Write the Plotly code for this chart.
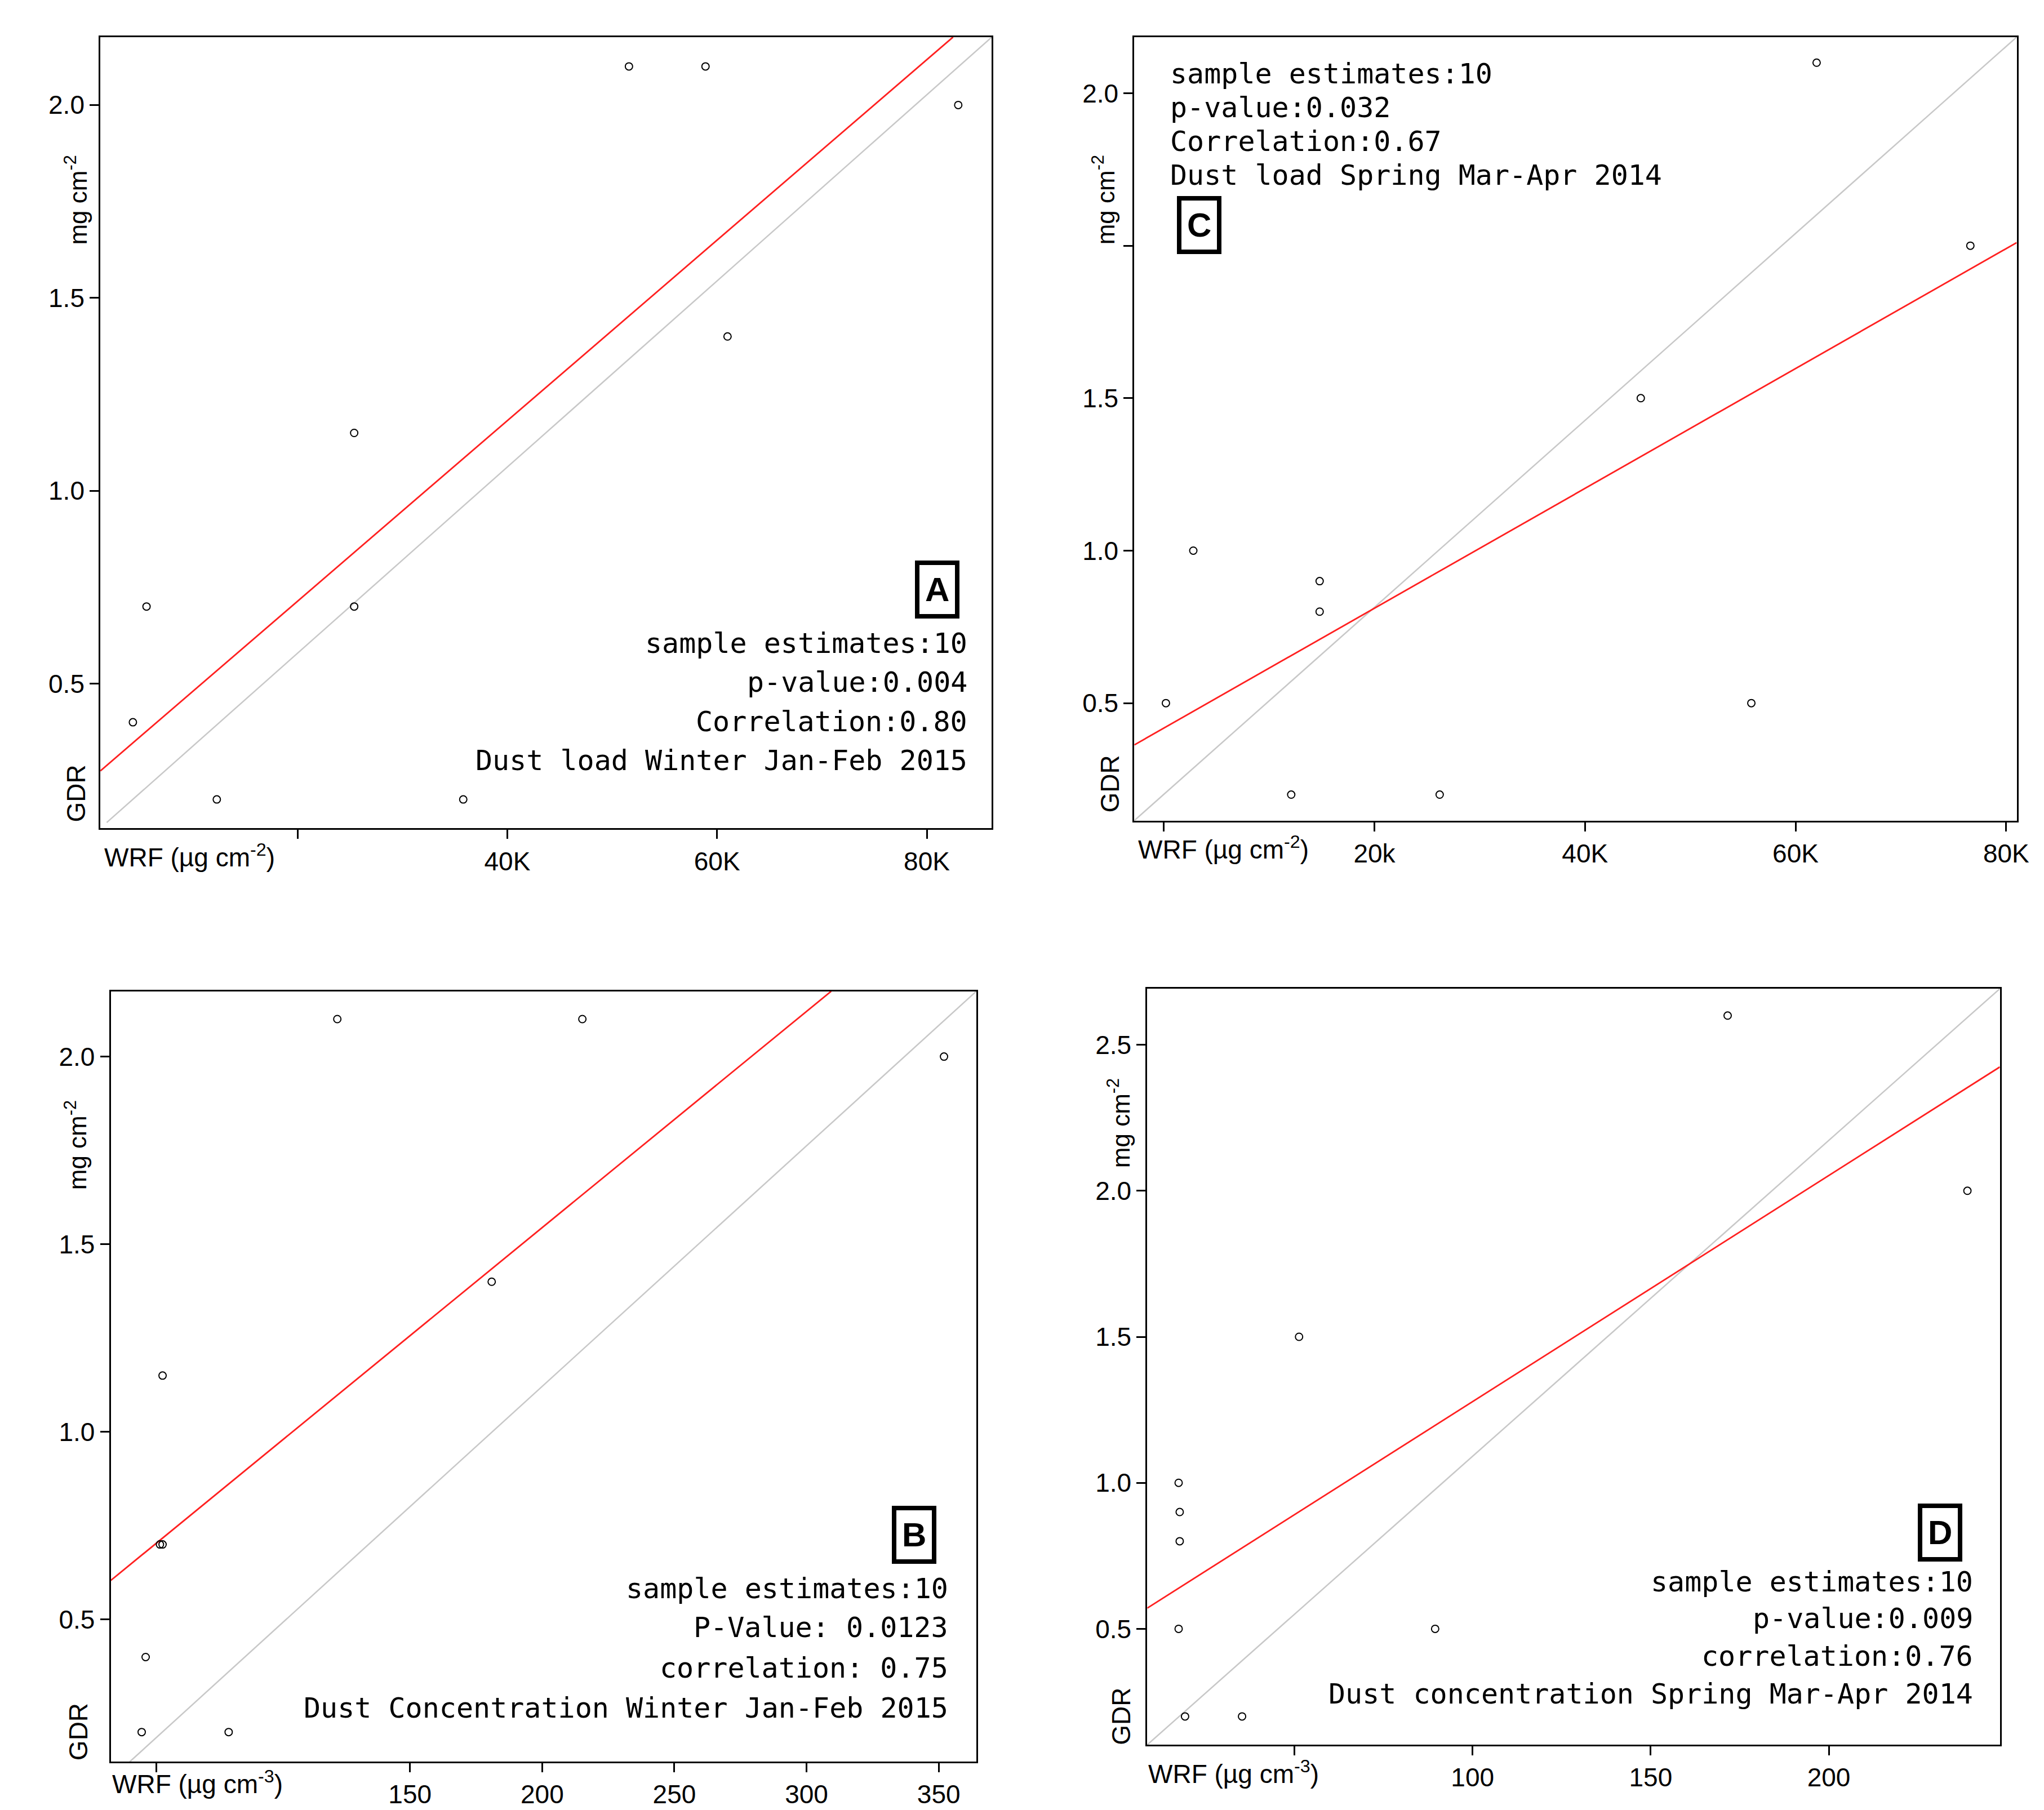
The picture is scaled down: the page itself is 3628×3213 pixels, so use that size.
import plotly.graph_objects as go

# ---------------- data ----------------
a_x = [4.3, 5.6, 12.3, 25.4, 25.4, 35.8, 51.6, 58.9, 61.0, 83.0]   # K ug cm-2
a_y = [0.4, 0.7, 0.2, 1.15, 0.7, 0.2, 2.1, 2.1, 1.4, 2.0]
a_fit_x = [1.2, 82.5]; a_fit_y = [0.274, 2.176]
a_diag_x = [1.8, 86.2]; a_diag_y = [0.14, 2.176]

c_x = [0.2, 2.8, 12.1, 14.8, 14.8, 26.2, 45.3, 55.8, 62.0, 76.6]
c_y = [0.5, 1.0, 0.2, 0.9, 0.8, 0.2, 1.5, 0.5, 2.6, 2.0]
c_fit_x = [-2.8, 81.0]; c_fit_y = [0.363, 2.01]
c_diag_x = [-2.8, 81.0]; c_diag_y = [0.115, 2.684]

b_x = [48.5, 50, 55.4, 56.4, 56.4, 81.4, 122.5, 180.9, 215.2, 352]
b_y = [0.2, 0.4, 0.7, 0.7, 1.15, 0.2, 2.1, 1.4, 2.1, 2.0]
b_fit_x = [36.8, 309.3]; b_fit_y = [0.604, 2.174]
b_diag_x = [44.0, 364.2]; b_diag_y = [0.121, 2.174]

d_x = [17.5, 17.8, 17.8, 17.5, 19.3, 35.3, 51.3, 89.5, 171.6, 238.9]
d_y = [0.5, 0.8, 0.9, 1.0, 0.2, 0.2, 1.5, 0.5, 2.6, 2.0]
d_fit_x = [8.7, 248]; d_fit_y = [0.571, 2.424]
d_diag_x = [8.7, 248]; d_diag_y = [0.103, 2.692]

a_text = ["sample estimates:10", "p-value:0.004", "Correlation:0.80", "Dust load Winter Jan-Feb 2015"]
c_text = ["sample estimates:10", "p-value:0.032", "Correlation:0.67", "Dust load Spring Mar-Apr 2014"]
b_text = ["sample estimates:10", "P-Value: 0.0123", "correlation: 0.75", "Dust Concentration Winter Jan-Feb 2015"]
d_text = ["sample estimates:10", "p-value:0.009", "correlation:0.76", "Dust concentration Spring Mar-Apr 2014"]

# ---------------- layout helpers ----------------
W, H = 1568.0, 1388.5
def px(x): return x / W
def py(y): return 1 - y / H

panels = [
    dict(n="A", box=(74, 25, 762, 632), xr=[1.2, 86.2], yr=[0.125, 2.176],
         xt=[20, 40, 60, 80], xtt=["", "40K", "60K", "80K"],
         yt=[0.5, 1.0, 1.5, 2.0], ytt=["0.5", "1.0", "1.5", "2.0"],
         x=a_x, y=a_y, fx=a_fit_x, fy=a_fit_y, gx=a_diag_x, gy=a_diag_y,
         lab=(720, 449), txt=a_text, tx=744, ty=[490, 520, 550, 580], align="right",
         wrf=(76, 653), unit="cm<sup>-2</sup>", mg=(55, 150), gdr=(55, 605)),
    dict(n="C", box=(872, 25, 1553, 626), xr=[-2.8, 81.0], yr=[0.115, 2.684],
         xt=[0, 20, 40, 60, 80], xtt=["", "20k", "40K", "60K", "80K"],
         yt=[0.5, 1.0, 1.5, 2.0, 2.5], ytt=["0.5", "1.0", "1.5", "", "2.0"],
         x=c_x, y=c_y, fx=c_fit_x, fy=c_fit_y, gx=c_diag_x, gy=c_diag_y,
         lab=(922, 169), txt=c_text, tx=899, ty=[53, 79, 105, 131], align="left",
         wrf=(874, 647), unit="cm<sup>-2</sup>", mg=(848, 150), gdr=(853, 598)),
    dict(n="B", box=(82, 757, 750, 1348), xr=[36.8, 364.2], yr=[0.121, 2.174],
         xt=[54, 150, 200, 250, 300, 350], xtt=["", "150", "200", "250", "300", "350"],
         yt=[0.5, 1.0, 1.5, 2.0], ytt=["0.5", "1.0", "1.5", "2.0"],
         x=b_x, y=b_y, fx=b_fit_x, fy=b_fit_y, gx=b_diag_x, gy=b_diag_y,
         lab=(702, 1174), txt=b_text, tx=729, ty=[1215, 1245, 1276, 1307], align="right",
         wrf=(82, 1364), unit="cm<sup>-3</sup>", mg=(55, 875), gdr=(57, 1325)),
    dict(n="D", box=(882, 755, 1540, 1335), xr=[8.7, 248], yr=[0.103, 2.692],
         xt=[50, 100, 150, 200], xtt=["", "100", "150", "200"],
         yt=[0.5, 1.0, 1.5, 2.0, 2.5], ytt=["0.5", "1.0", "1.5", "2.0", "2.5"],
         x=d_x, y=d_y, fx=d_fit_x, fy=d_fit_y, gx=d_diag_x, gy=d_diag_y,
         lab=(1494, 1172), txt=d_text, tx=1520, ty=[1210, 1238, 1267, 1296], align="right",
         wrf=(882, 1356), unit="cm<sup>-3</sup>", mg=(860, 858), gdr=(862, 1313)),
]

fig = go.Figure()
ann = []
lay = {}
for i, p in enumerate(panels):
    k = "" if i == 0 else str(i + 1)
    xa, ya = "x" + k, "y" + k
    l, t, r, b = p["box"]
    fig.add_trace(go.Scatter(x=p["gx"], y=p["gy"], mode="lines", line=dict(color="#c8c8c8", width=2.5),
                             xaxis=xa, yaxis=ya, showlegend=False))
    fig.add_trace(go.Scatter(x=p["fx"], y=p["fy"], mode="lines", line=dict(color="#ff2020", width=2.8),
                             xaxis=xa, yaxis=ya, showlegend=False))
    fig.add_trace(go.Scatter(x=p["x"], y=p["y"], mode="markers",
                             marker=dict(symbol="circle-open", size=13, color="black", line=dict(width=2)),
                             xaxis=xa, yaxis=ya, showlegend=False))
    common = dict(showgrid=False, zeroline=False, showline=True, linecolor="black", linewidth=3,
                  mirror=True, ticks="outside", ticklen=16, tickwidth=2.5, tickcolor="black",
                  tickfont=dict(family="Liberation Sans", size=46, color="black"))
    lay["xaxis" + k] = dict(domain=[px(l), px(r)], range=p["xr"], tickvals=p["xt"], ticktext=p["xtt"],
                            anchor=ya, **common)
    lay["yaxis" + k] = dict(domain=[py(b), py(t)], range=p["yr"], tickvals=p["yt"], ticktext=p["ytt"],
                            anchor=xa, **common)
    ann.append(dict(x=px(p["lab"][0]), y=py(p["lab"][1]), xref="paper", yref="paper", showarrow=False,
                    xanchor="center", yanchor="middle",
                    text="<b>%s</b>" % p["n"], font=dict(family="Liberation Sans", size=60, color="black"),
                    bordercolor="black", borderwidth=8, borderpad=10, bgcolor="white"))
    for s, yy in zip(p["txt"], p["ty"]):
        ann.append(dict(x=px(p["tx"]), y=py(yy), xref="paper", yref="paper", showarrow=False, text=s,
                        xanchor=p["align"], yanchor="middle",
                        font=dict(family="DejaVu Sans Mono", size=50, color="black")))
    ann.append(dict(x=px(p["wrf"][0]), y=py(p["wrf"][1]), xref="paper", yref="paper", showarrow=False,
                    text="WRF (µg %s)" % p["unit"], xanchor="left", yanchor="middle",
                    font=dict(family="Liberation Sans", size=46, color="black")))
    ann.append(dict(x=px(p["mg"][0]), y=py(p["mg"][1]), xref="paper", yref="paper", showarrow=False,
                    text="mg cm<sup>-2</sup>", textangle=-90, xanchor="center", yanchor="middle",
                    font=dict(family="Liberation Sans", size=44, color="black")))
    ann.append(dict(x=px(p["gdr"][0]), y=py(p["gdr"][1]), xref="paper", yref="paper", showarrow=False,
                    text="GDR", textangle=-90, xanchor="center", yanchor="middle",
                    font=dict(family="Liberation Sans", size=46, color="black")))

fig.update_layout(width=3628, height=3213, margin=dict(l=0, r=0, t=0, b=0),
                  plot_bgcolor="white", paper_bgcolor="white", annotations=ann, **lay)
fig.write_html("out.html")
